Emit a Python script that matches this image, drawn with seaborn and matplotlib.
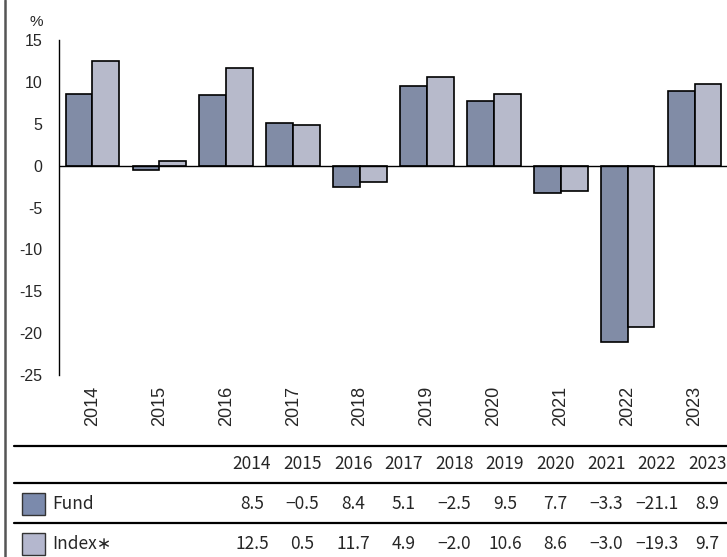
import pandas as pd
import seaborn as sns
import matplotlib.pyplot as plt
from matplotlib.lines import Line2D
from matplotlib.patches import Rectangle

years = ["2014", "2015", "2016", "2017", "2018", "2019", "2020", "2021", "2022", "2023"]
fund = [8.5, -0.5, 8.4, 5.1, -2.5, 9.5, 7.7, -3.3, -21.1, 8.9]
index = [12.5, 0.5, 11.7, 4.9, -2.0, 10.6, 8.6, -3.0, -19.3, 9.7]
series = ["Fund", "Index*"]
colors = ["#7b8aac", "#b4b7ce"]

df = pd.DataFrame({"Year": years * 2,
                   "Return": fund + index,
                   "Series": [series[0]] * len(years) + [series[1]] * len(years)})

sns.set_style("white")
plt.rcParams["font.family"] = ["Liberation Sans", "DejaVu Sans"]
plt.rcParams["axes.unicode_minus"] = False

fig = plt.figure(figsize=(7.27, 5.57), dpi=100)
ax = fig.add_axes([59 / 727, 1 - 375 / 557, 669 / 727, 335 / 557])

sns.barplot(data=df, x="Year", y="Return", hue="Series", palette=colors,
            edgecolor="black", linewidth=1.2, width=0.8, ax=ax, legend=False)

ax.set_ylim(-25, 15)
ax.set_xlim(-0.5, 9.5)
ax.set_yticks(range(-25, 16, 5))
ax.axhline(0, color="black", lw=1)
ax.set_xlabel("")
ax.set_ylabel("")
for s in ["top", "right", "bottom"]:
    ax.spines[s].set_visible(False)
ax.spines["left"].set_color("black")
ax.spines["left"].set_linewidth(1)
ax.tick_params(axis="y", length=0, pad=12, labelsize=11.5)
ax.tick_params(axis="x", length=0, pad=8, labelsize=13, rotation=90)
fig.text(36 / 727, 1 - 22 / 557, "%", ha="center", va="center", fontsize=11)

# left border of the figure
fig.add_artist(Line2D([5 / 727, 5 / 727], [0, 1], color="#555555", lw=1.8))

# data table below the chart
tfont = ["Noto Sans CJK JP", "DejaVu Sans"]
for ypx in [446, 483, 523]:
    fig.add_artist(Line2D([14 / 727, 1], [1 - ypx / 557] * 2, color="black", lw=1.6))

col_x = [252 + 50.6 * i for i in range(len(years))]
for x, yr in zip(col_x, years):
    fig.text(x / 727, 1 - 464 / 557, yr, ha="center", va="center", fontsize=12.5, family=tfont)

rows = [(series[0], fund, colors[0], 504), (series[1], index, colors[1], 544)]
for name, vals, c, ypx in rows:
    fig.add_artist(Rectangle((22 / 727, 1 - (ypx + 11) / 557), 23 / 727, 22 / 557,
                             facecolor=c, edgecolor="#333333", lw=1,
                             transform=fig.transFigure))
    fig.text(52 / 727, 1 - ypx / 557, name.replace("*", "\u2217"), ha="left", va="center",
             fontsize=12.5, family=tfont)
    for x, v in zip(col_x, vals):
        fig.text(x / 727, 1 - ypx / 557, f"{v:.1f}".replace("-", "\u2212"),
                 ha="center", va="center", fontsize=12.5, family=tfont)

fig.savefig("out.png", dpi=100)
